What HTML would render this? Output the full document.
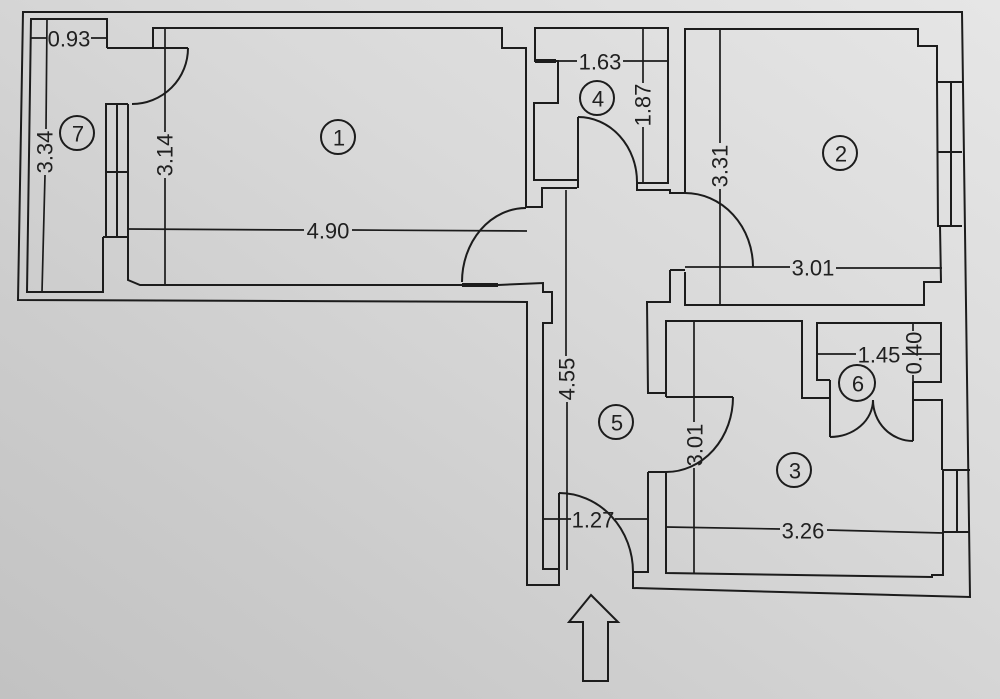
<!DOCTYPE html>
<html><head><meta charset="utf-8"><style>
html,body{margin:0;padding:0;}
body{width:1000px;height:699px;overflow:hidden;background:linear-gradient(to bottom left,#e6e6e6 0%,#d9d9d9 40%,#cbcbcb 75%,#c2c2c2 100%);}
svg{position:absolute;left:0;top:0;}
text{font-family:"Liberation Sans",sans-serif;font-size:22px;fill:#202020;}
</style></head><body>
<svg width="1000" height="699" viewBox="0 0 1000 699" xmlns="http://www.w3.org/2000/svg">
<g fill="none" stroke="#1c1c1c" stroke-width="2" stroke-linejoin="miter">
<!-- outer -->
<path d="M633,572 L633,588 L970,597 L962,12 L23,12 L18,300 L527,302 L527,585 L559,585 L559,570"/>
<!-- room 7 -->
<path d="M107,48 L107,19 L31,19 L27,292 L103,292 L103,237"/>
<!-- window wall 7/1 -->
<path d="M106,237 L106,104 L128,104"/>
<path d="M117,104 L117,237 M106,172 L128,172 M103,237 L128,237"/>
<path d="M128,104 L128,280 L140,285 L498,285 L543,283 L543,292 L552,292 L552,323 L543,323 L543,569 L559,569"/>
<path d="M462,285 L498,285" stroke-width="4"/>
<!-- door 7 -->
<path d="M107,48 L188,48"/>
<path d="M188,48 A56,56 0 0 1 132,104"/>
<!-- room 1 top/right -->
<path d="M153,48 L153,28 L502,28 L502,48 L526,48 L526,207 L542,207 L542,188 L577,188"/>
<path d="M526,208 A64,74 0 0 0 462,282"/>
<!-- room 4 -->
<path d="M577,180 L534,180 L534,103 L558,103 L558,61 L535,61 L535,28 L668,28 L668,183 L637,183"/>
<path d="M535,61 L556,61" stroke-width="4"/>
<path d="M578,117 L578,188"/>
<path d="M578,117 A59,65 0 0 1 637,182"/>
<path d="M637,182 L637,190 L670,190 L670,193 L685,193"/>
<!-- room 2 -->
<path d="M685,193 L685,29 L918,29 L918,46 L937,46 L937,82"/>
<path d="M937,82 L962,82 M937,82 L938,226 L962,226 M951,82 L951,226 M937,152 L962,152"/>
<path d="M940,226 L941,282 L924,282 L924,305 L685,305 L685,272"/>
<path d="M670,270 L685,270 M670,270 L670,302 L647,302 L648,393 L666,393"/>
<path d="M685,193 A68,74 0 0 1 753,267"/>
<!-- corridor right / room 3 door -->
<path d="M648,472 L648,572 L633,572 M648,472 L666,472"/>
<path d="M666,397 L733,397"/>
<path d="M733,397 A67,75 0 0 1 666,472"/>
<!-- entry door -->
<path d="M559,493 L559,570"/>
<path d="M559,493 A74,79 0 0 1 633,572"/>
<!-- room 3 -->
<path d="M666,397 L666,321 L802,321 L802,398 L830,398"/>
<path d="M666,472 L666,573 L932,577 L932,575 L943,575 L943,532"/>
<path d="M943,532 L970,532 M943,470 L970,470 M943,470 L943,532 M957,470 L957,532"/>
<path d="M942,470 L942,400 L913,400"/>
<!-- room 6 -->
<path d="M830,380 L817,380 L817,323 L941,323 L941,382 L913,382"/>
<path d="M830,380 L830,437 M913,382 L913,441"/>
<path d="M830,437 A43,37 0 0 0 873,400"/>
<path d="M913,441 A40,41 0 0 1 873,400"/>
<!-- arrow -->
<path d="M591,595 L618,622 L608,622 L608,681 L583,681 L583,622 L569,622 Z"/>
</g>
<!-- dimension lines -->
<g fill="none" stroke="#1c1c1c" stroke-width="1.7">
<path d="M128,229 L304,230 M352,230 L527,231"/>
<path d="M31,38 L47,38 M91,38 L107,38"/>
<path d="M47,19 L46,129 M45,175 L42,292"/>
<path d="M165,28 L165,132 M165,178 L165,285"/>
<path d="M535,61 L577,61 M623,61 L668,61"/>
<path d="M643,28 L643,83 M643,127 L643,182"/>
<path d="M685,267 L790,267 M836,268 L942,268"/>
<path d="M720,29 L720,143 M720,189 L720,305"/>
<path d="M566,190 L566,356 M567,402 L567,570"/>
<path d="M543,519 L571,519 M615,519 L648,519"/>
<path d="M666,527 L780,529 M827,530 L943,533"/>
<path d="M694,321 L694,422 M694,468 L694,573"/>
<path d="M817,354 L856,354 M902,354 L941,354"/>
<path d="M913,323 L913,331 M913,375 L913,382"/>
</g>
<!-- room circles -->
<g fill="none" stroke="#1c1c1c" stroke-width="2">
<circle cx="77" cy="133" r="17"/>
<circle cx="338" cy="137" r="17"/>
<circle cx="597" cy="98" r="17"/>
<circle cx="840" cy="153" r="17"/>
<circle cx="616" cy="422" r="17"/>
<circle cx="857" cy="383" r="18"/>
<circle cx="794" cy="470" r="17"/>
</g>
<g text-anchor="middle" dominant-baseline="central">
<text x="78" y="134">7</text>
<text x="339" y="138">1</text>
<text x="598" y="99">4</text>
<text x="841" y="154">2</text>
<text x="617" y="423">5</text>
<text x="858" y="384">6</text>
<text x="795" y="471">3</text>

<text x="328" y="231">4.90</text>
<text x="69" y="39">0.93</text>
<text x="600" y="62">1.63</text>
<text x="813" y="268">3.01</text>
<text x="593" y="520">1.27</text>
<text x="803" y="531">3.26</text>
<text x="879" y="355">1.45</text>

<text x="45" y="152" transform="rotate(-90 45 152)">3.34</text>
<text x="165" y="155" transform="rotate(-90 165 155)">3.14</text>
<text x="643" y="105" transform="rotate(-90 643 105)">1.87</text>
<text x="720" y="166" transform="rotate(-90 720 166)">3.31</text>
<text x="567" y="379" transform="rotate(-90 567 379)">4.55</text>
<text x="695" y="445" transform="rotate(-90 695 445)">3.01</text>
<text x="914" y="353" transform="rotate(-90 914 353)">0.40</text>
</g>
</svg>
</body></html>
